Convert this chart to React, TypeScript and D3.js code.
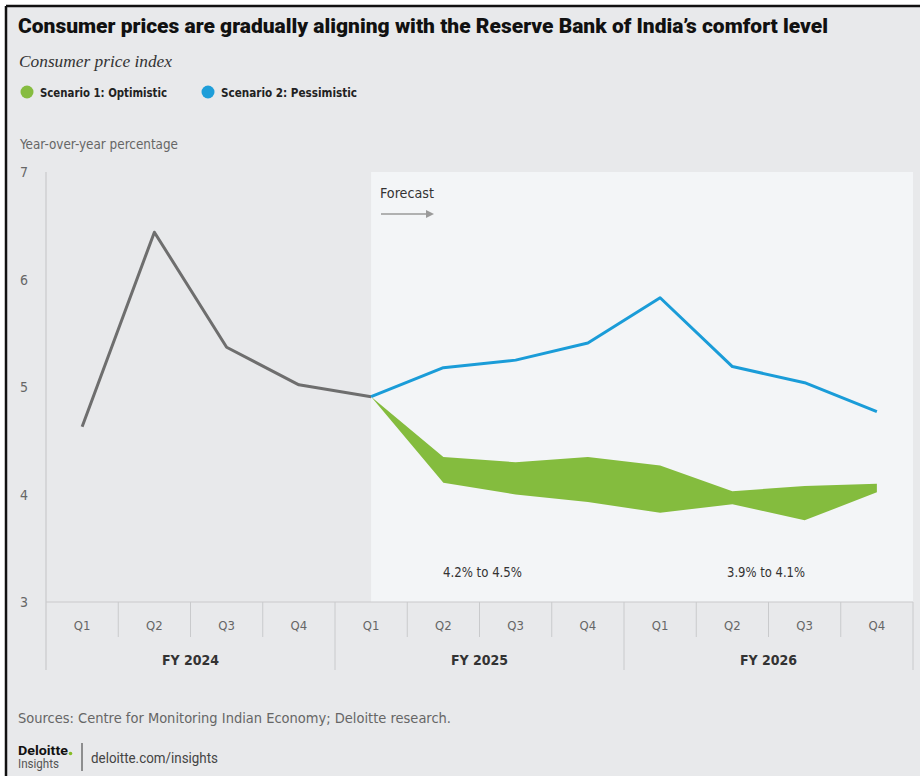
import React from "react";
import * as d3 from "d3";

const quarters = ["Q1", "Q2", "Q3", "Q4", "Q1", "Q2", "Q3", "Q4", "Q1", "Q2", "Q3", "Q4"];
const fiscalYears = ["FY 2024", "FY 2025", "FY 2026"];
const yTicks = [3, 4, 5, 6, 7];

// Historical actuals (FY2024 Q1 .. FY2025 Q1)
const historical = [4.63, 6.44, 5.37, 5.02, 4.91];
// Forecasts (FY2025 Q1 .. FY2026 Q4)
const pessimistic = [4.91, 5.18, 5.25, 5.41, 5.83, 5.19, 5.04, 4.77];
const optimisticHigh = [4.91, 4.35, 4.3, 4.35, 4.27, 4.03, 4.08, 4.1];
const optimisticLow = [4.91, 4.11, 4.0, 3.93, 3.83, 3.91, 3.76, 4.02];
const rangeLabels = ["4.2% to 4.5%", "3.9% to 4.1%"];

const W = 920;
const H = 776;
const left = 46;
const right = 913;
const top = 172;
const bottom = 602;

const condensed = "'Liberation Sans Narrow', 'DejaVu Sans Condensed', 'Roboto Condensed', Roboto, sans-serif";
const sans = "Roboto, 'Liberation Sans', 'DejaVu Sans', sans-serif";

export default function App() {
  const x = d3.scaleBand<number>().domain(d3.range(quarters.length)).range([left, right]).padding(0);
  const bw = x.bandwidth();
  const cx = (i: number) => (x(i) as number) + bw / 2;
  const y = d3.scaleLinear().domain([3, 7]).range([bottom, top]);

  const line = d3
    .line<[number, number]>()
    .x((d) => cx(d[0]))
    .y((d) => y(d[1]));

  const histPts: [number, number][] = historical.map((v, i) => [i, v]);
  const pessPts: [number, number][] = pessimistic.map((v, i) => [i + 4, v]);
  const area = d3
    .area<number>()
    .x((_, i) => cx(i + 4))
    .y0((_, i) => y(optimisticLow[i]))
    .y1((_, i) => y(optimisticHigh[i]));

  const forecastX = cx(4);

  return (
    <svg width={W} height={H} style={{ position: "absolute", left: 0, top: 0 }} xmlns="http://www.w3.org/2000/svg">
      <rect x={0} y={0} width={W} height={H} fill="#ffffff" />
      <rect x={6} y={6} width={W} height={H} fill="#e8e9eb" />
      <line x1={6} y1={6} x2={W} y2={6} stroke="#111" strokeWidth={2.5} />
      <line x1={6} y1={6} x2={6} y2={H} stroke="#111" strokeWidth={2.5} />

      {/* Title */}
      <text x={18} y={33} fontFamily="Roboto, 'Liberation Sans', sans-serif" fontWeight={900} fontSize={20} fill="#111" textLength={810} lengthAdjust="spacingAndGlyphs">
        Consumer prices are gradually aligning with the Reserve Bank of India’s comfort level
      </text>
      <text x={19} y={67} fontFamily="'Liberation Serif', 'DejaVu Serif', serif" fontStyle="italic" fontSize={16} fill="#333" textLength={153} lengthAdjust="spacingAndGlyphs">
        Consumer price index
      </text>

      {/* Legend */}
      <circle cx={27} cy={92} r={6.5} fill="#86bc40" />
      <text x={40} y={97} fontFamily={condensed} fontWeight={700} fontSize={13} fill="#222" textLength={127} lengthAdjust="spacingAndGlyphs">
        Scenario 1: Optimistic
      </text>
      <circle cx={208} cy={92} r={6.5} fill="#1e9ed9" />
      <text x={221} y={97} fontFamily={condensed} fontWeight={700} fontSize={13} fill="#222" textLength={136} lengthAdjust="spacingAndGlyphs">
        Scenario 2: Pessimistic
      </text>

      <text x={20} y={149} fontFamily={condensed} fontSize={14} fill="#666" textLength={158} lengthAdjust="spacingAndGlyphs">
        Year-over-year percentage
      </text>

      {/* Forecast panel */}
      <rect x={forecastX} y={top} width={right - forecastX} height={bottom - top} fill="#f3f5f7" />

      {/* Y axis */}
      <line x1={left} y1={top} x2={left} y2={670} stroke="#c9cacc" strokeWidth={1.2} />
      {yTicks.map((t) => (
        <text key={t} x={24} y={y(t) + 5} textAnchor="middle" fontFamily={condensed} fontSize={14} fill="#666">
          {t}
        </text>
      ))}

      {/* X axis bands */}
      <line x1={left} y1={bottom} x2={right} y2={bottom} stroke="#c9cacc" strokeWidth={1.2} />
      {quarters.map((q, i) => (
        <g key={i}>
          {i > 0 && i % 4 !== 0 && (
            <line x1={x(i) as number} y1={bottom} x2={x(i) as number} y2={637} stroke="#c9cacc" strokeWidth={1} />
          )}
          <text x={cx(i)} y={630} textAnchor="middle" fontFamily={condensed} fontSize={13} fill="#666">
            {q}
          </text>
        </g>
      ))}
      {fiscalYears.map((fy, k) => {
        const x0 = x(k * 4) as number;
        const x1 = k === fiscalYears.length - 1 ? right : (x(k * 4 + 4) as number);
        return (
          <g key={fy}>
            {k > 0 && <line x1={x0} y1={bottom} x2={x0} y2={670} stroke="#c9cacc" strokeWidth={1} />}
            <text x={(x0 + x1) / 2} y={665} textAnchor="middle" fontFamily={condensed} fontWeight={700} fontSize={14} fill="#333">
              {fy}
            </text>
          </g>
        );
      })}
      <line x1={right} y1={bottom} x2={right} y2={670} stroke="#c9cacc" strokeWidth={1} />

      {/* Forecast label */}
      <text x={380} y={198} fontFamily={condensed} fontSize={14} fill="#333" textLength={54} lengthAdjust="spacingAndGlyphs">
        Forecast
      </text>
      <line x1={381} y1={214} x2={427} y2={214} stroke="#9a9a9a" strokeWidth={1.3} />
      <path d="M426,210 L434,214 L426,218 Z" fill="#9a9a9a" />

      {/* Data */}
      <path d={area(optimisticHigh) || ""} fill="#84bc3e" />
      <path d={line(histPts) || ""} fill="none" stroke="#6e6e6e" strokeWidth={3} strokeLinejoin="round" />
      <path d={line(pessPts) || ""} fill="none" stroke="#1a9cd8" strokeWidth={3} strokeLinejoin="round" />

      {/* Range labels */}
      <text x={443} y={577} fontFamily={condensed} fontSize={14} fill="#333" textLength={79} lengthAdjust="spacingAndGlyphs">
        {rangeLabels[0]}
      </text>
      <text x={727} y={577} fontFamily={condensed} fontSize={14} fill="#333" textLength={78} lengthAdjust="spacingAndGlyphs">
        {rangeLabels[1]}
      </text>

      {/* Footer */}
      <text x={18} y={723} fontFamily={condensed} fontSize={13.5} fill="#666" textLength={433} lengthAdjust="spacingAndGlyphs">
        Sources:  Centre for Monitoring Indian Economy; Deloitte research.
      </text>
      <text x={18} y={755} fontFamily={sans} fontWeight={700} fontSize={13} fill="#111" textLength={50} lengthAdjust="spacingAndGlyphs">
        Deloitte
      </text>
      <circle cx={70.5} cy={753.5} r={1.8} fill="#86bc25" />
      <text x={18} y={768} fontFamily={sans} fontSize={12} fill="#555" textLength={41} lengthAdjust="spacingAndGlyphs">
        Insights
      </text>
      <line x1={82} y1={743} x2={82} y2={771} stroke="#333" strokeWidth={1} />
      <text x={91} y={763} fontFamily={sans} fontSize={14} fill="#444" textLength={127} lengthAdjust="spacingAndGlyphs">
        deloitte.com/insights
      </text>
    </svg>
  );
}
